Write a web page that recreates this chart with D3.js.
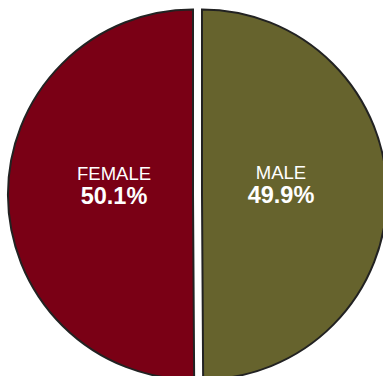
<!DOCTYPE html>
<html>
<head>
<meta charset="utf-8">
<script src="https://cdn.jsdelivr.net/npm/d3@7"></script>
<style>
  html, body { margin: 0; padding: 0; background: #fff; }
  svg { display: block; }
</style>
</head>
<body>
<svg id="chart" width="383" height="376"></svg>
<script>
const categories = ["MALE", "FEMALE"];
const values = [49.9, 50.1];
const valueLabels = ["49.9%", "50.1%"];
const colors = ["#66632d", "#7a0015"];

const W = 383, H = 376;
const cx = 197.5, cy = 194.5, R = 185, explode = 4.5;

const data = categories.map((c, i) => ({ name: c, value: values[i], label: valueLabels[i], color: colors[i] }));

const svg = d3.select("#chart");
const pie = d3.pie().sort(null).value(d => d.value).startAngle(0).endAngle(2 * Math.PI);
const arc = d3.arc().innerRadius(0).outerRadius(R);
const labelArc = d3.arc().innerRadius(0).outerRadius(158);

const g = svg.append("g").attr("transform", `translate(${cx},${cy})`);
const arcs = pie(data);

const slice = g.selectAll("g.slice").data(arcs).enter().append("g")
  .attr("class", "slice")
  .attr("transform", d => {
    const mid = (d.startAngle + d.endAngle) / 2;
    return `translate(${Math.sin(mid) * explode},${-Math.cos(mid) * explode})`;
  });

slice.append("path")
  .attr("d", arc)
  .attr("fill", d => d.data.color)
  .attr("stroke", "#222")
  .attr("stroke-width", 2)
  .attr("stroke-linejoin", "miter");

slice.each(function(d) {
  const [x, y] = labelArc.centroid(d);
  const sel = d3.select(this);
  sel.append("text")
    .attr("x", x).attr("y", y - 15)
    .attr("text-anchor", "middle")
    .attr("fill", "#fff")
    .style("font-family", "Liberation Sans, Arial, sans-serif")
    .style("font-size", "18.5px")
    .text(d.data.name);
  sel.append("text")
    .attr("x", x).attr("y", y + 9)
    .attr("text-anchor", "middle")
    .attr("fill", "#fff")
    .style("font-family", "Liberation Sans, Arial, sans-serif")
    .style("font-size", "23.5px")
    .style("font-weight", "bold")
    .text(d.data.label);
});
</script>
</body>
</html>
